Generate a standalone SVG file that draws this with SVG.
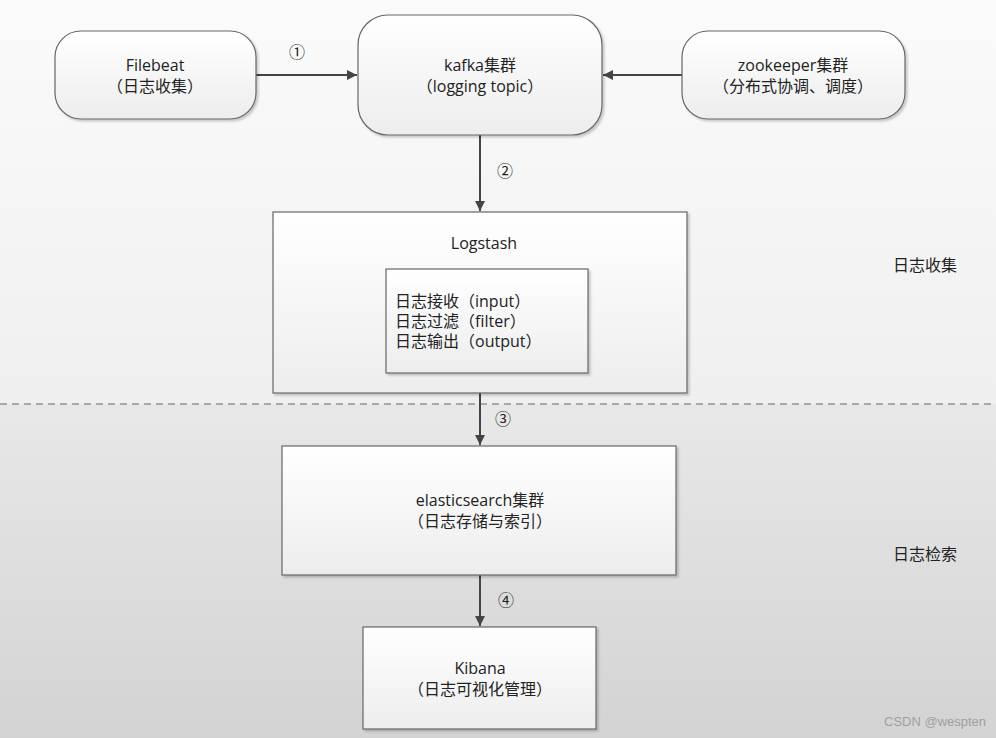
<svg xmlns="http://www.w3.org/2000/svg" width="996" height="738" viewBox="0 0 996 738">
<defs>
<linearGradient id="bgTop" x1="0" y1="0" x2="0" y2="1"><stop offset="0" stop-color="#fbfbfb"/><stop offset="1" stop-color="#efefef"/></linearGradient>
<linearGradient id="bgBot" x1="0" y1="0" x2="0" y2="1"><stop offset="0" stop-color="#e8e8e8"/><stop offset="1" stop-color="#d3d3d3"/></linearGradient>
<linearGradient id="node" x1="0" y1="0" x2="0" y2="1"><stop offset="0" stop-color="#ffffff"/><stop offset="1" stop-color="#ededed"/></linearGradient>
<filter id="sh" x="-5%" y="-5%" width="115%" height="115%"><feDropShadow dx="2" dy="2" stdDeviation="1.2" flood-color="#000" flood-opacity="0.2"/></filter>
<marker id="arr" viewBox="0 0 10 10" refX="10" refY="5" markerWidth="10" markerHeight="10" markerUnits="userSpaceOnUse" orient="auto"><path d="M0,0 L10,5 L0,10 z" fill="#444"/></marker>
<style>
text{font-family:"Open Sans","Noto Sans","Noto Sans CJK SC",sans-serif;font-size:16px;fill:#222}
.c{text-anchor:middle}
.box{fill:url(#node);stroke:#666;stroke-width:1.2;filter:url(#sh)}
.edge{stroke:#444;stroke-width:2;fill:none;marker-end:url(#arr)}
</style>
</defs>
<rect x="0" y="0" width="996" height="404" fill="url(#bgTop)"/>
<rect x="0" y="404" width="996" height="334" fill="url(#bgBot)"/>
<line x1="0" y1="404" x2="996" y2="404" stroke="#666" stroke-width="1" stroke-dasharray="7,5"/>
<g id="connectors">
<line class="edge" x1="256" y1="75" x2="357" y2="75"/>
<line class="edge" x1="682" y1="75" x2="603" y2="75"/>
<line class="edge" x1="480" y1="135" x2="480" y2="211"/>
<line class="edge" x1="480" y1="393" x2="480" y2="445"/>
<line class="edge" x1="480" y1="575" x2="480" y2="626"/>
<text class="c" x="297" y="58">①</text>
<text class="c" x="505" y="177">②</text>
<text class="c" x="503" y="425">③</text>
<text class="c" x="506" y="606">④</text>
</g>
<g id="filebeat">
<rect class="box" x="55" y="31" width="201" height="88" rx="26"/>
<text class="c" x="155" y="71">Filebeat</text>
<text class="c" x="155" y="92">（日志收集）</text>
</g>
<g id="kafka">
<rect class="box" x="358" y="15" width="244" height="120" rx="30"/>
<text class="c" x="480" y="71">kafka集群</text>
<text class="c" x="480" y="92">（logging topic）</text>
</g>
<g id="zookeeper">
<rect class="box" x="682" y="31" width="223" height="88" rx="26"/>
<text class="c" x="793" y="71">zookeeper集群</text>
<text class="c" x="793" y="92">（分布式协调、调度）</text>
</g>
<g id="logstash">
<rect class="box" x="273" y="212" width="414" height="181"/>
<text class="c" x="484" y="249">Logstash</text>
<rect class="box" x="386" y="269" width="202" height="104"/>
<text x="395" y="307">日志接收（input）</text>
<text x="395" y="327">日志过滤（filter）</text>
<text x="395" y="347">日志输出（output）</text>
</g>
<g id="elasticsearch">
<rect class="box" x="282" y="446" width="394" height="129"/>
<text class="c" x="480" y="506">elasticsearch集群</text>
<text class="c" x="480" y="527">（日志存储与索引）</text>
</g>
<g id="kibana">
<rect class="box" x="363" y="627" width="233" height="102"/>
<text class="c" x="480" y="674">Kibana</text>
<text class="c" x="480" y="695">（日志可视化管理）</text>
</g>
<g id="labels">
<text x="893" y="271">日志收集</text>
<text x="893" y="560">日志检索</text>
<text x="884" y="726" style="font-family:'Liberation Sans',Arial,sans-serif;font-size:13px;fill:#a0a0a0">CSDN @wespten</text>
</g>
</svg>
